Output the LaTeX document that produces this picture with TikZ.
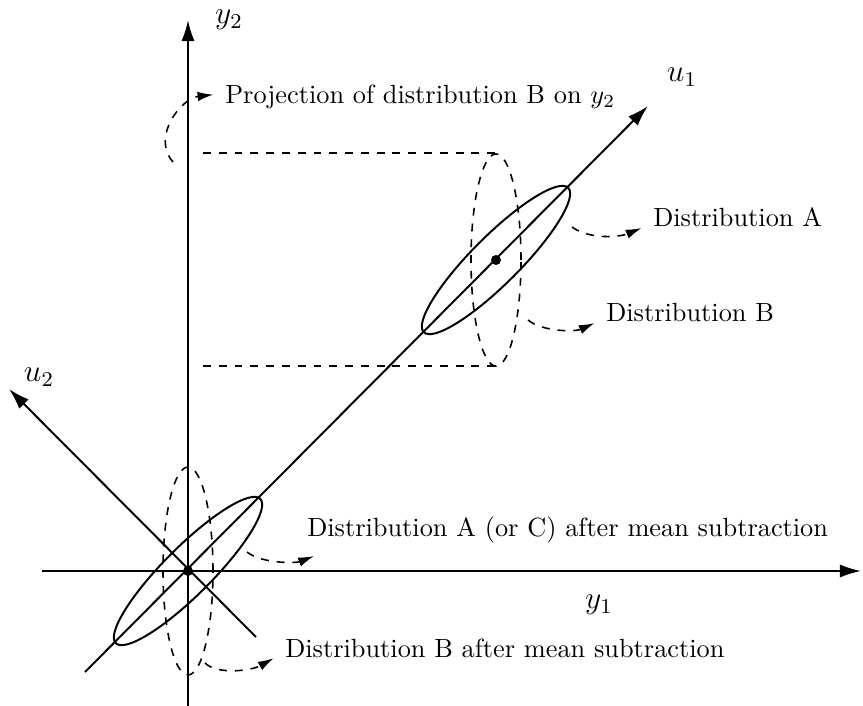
\documentclass[tikz,border=0pt]{standalone}
\usetikzlibrary{arrows.meta}

\begin{document}
\begin{tikzpicture}[
  x=0.38pt,y=-0.38pt,
  >=Latex,
  axis/.style={-{Latex[length=8pt,width=5pt]},line width=0.75pt},
  distr/.style={line width=0.75pt},
  proj/.style={dashed,line width=0.6pt},
  note/.style={dashed,line width=0.6pt,-{Latex[length=6pt,width=3.6pt]},shorten >=1pt},
  lbl/.style={anchor=west},
  axlbl/.style={font=\large}
]
  \useasboundingbox (0,0) rectangle (863,706);

  % centres
  \coordinate (O) at (188,571);
  \coordinate (M) at (496,260);

  % axes
  \draw[axis] (42,571) -- (861,571);
  \draw[axis] (188,706) -- (188,20);
  \draw[axis] (85,672) -- (648,106);
  \draw[axis] (256,637) -- (9,389);
  \node[axlbl] (y1) at (599,605) {$y_1$};
  \node[axlbl] (y2) at (229,20) {$y_2$};
  \node[axlbl] (u1) at (682,77) {$u_1$};
  \node[axlbl] (u2) at (39,377) {$u_2$};

  % distributions A and B
  \draw[distr,rotate around={45:(M)}] (M) ellipse [x radius=38.8pt,y radius=9.1pt];
  \draw[proj] (M) ellipse [x radius=9.5pt,y radius=40.3pt];
  \fill (M) circle (1.9pt);
  \draw[proj] (203,153) -- (496,153);
  \draw[proj] (203,366) -- (496,366);

  % after mean subtraction
  \draw[distr,rotate around={45:(O)}] (O) ellipse [x radius=38.8pt,y radius=9.1pt];
  \draw[proj] (O) ellipse [x radius=9.5pt,y radius=39.5pt];
  \fill (O) circle (1.9pt);

  % labels
  \node[lbl] (labP) at (216,97) {Projection of distribution B on $y_2$};
  \node[lbl] (labA) at (644,217) {Distribution A};
  \node[lbl] (labB) at (597,313) {Distribution B};
  \node[lbl] (labMA) at (298,530) {Distribution A (or C) after mean subtraction};
  \node[lbl] (labMB) at (276,648) {Distribution B after mean subtraction};

  \coordinate (sP) at (173,162);
  \coordinate (sA) at (572,227);
  \coordinate (sB) at (528,320);
  \coordinate (sMA) at (247,552);
  \coordinate (sMB) at (205,663);

  \draw[note] (sP) .. controls +(-22,-25) and +(-35,4) .. ([yshift=1pt]labP.west);
  \draw[note] (sA) .. controls +(18,13) and +(-24,10) .. ([yshift=-3.8pt]labA.west);
  \draw[note] (sB) .. controls +(15,12) and +(-22,10) .. ([yshift=-3.4pt]labB.west);
  \draw[note] (sMA) .. controls +(15,12) and +(-20,8) .. ([xshift=7pt,yshift=-1pt]labMA.south west);
  \draw[note] (sMB) .. controls +(12,12) and +(-25,14) .. ([yshift=-3.4pt]labMB.west);
\end{tikzpicture}
\end{document}
